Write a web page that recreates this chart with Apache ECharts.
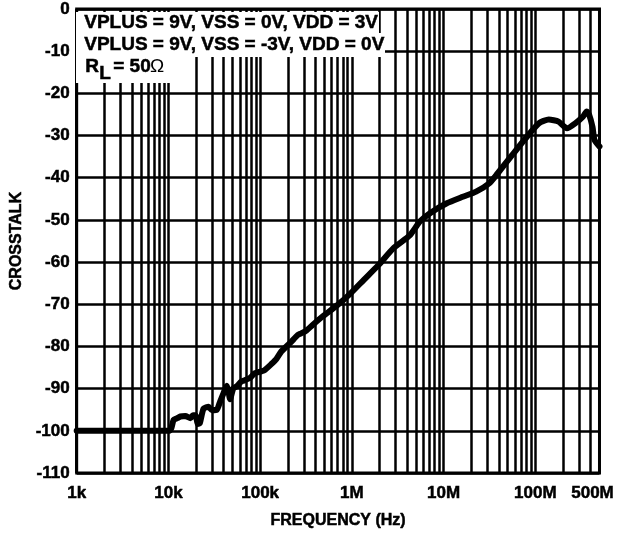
<!DOCTYPE html>
<html>
<head>
<meta charset="utf-8">
<script src="https://cdn.jsdelivr.net/npm/echarts@6/dist/echarts.min.js"></script>
<style>
	html, body { margin: 0; padding: 0; background: #fff; }
	#chart { width: 617px; height: 536px; }
</style>
</head>
<body>
<div id="chart"></div>
<script>
// frequency in Hz
const freq = [
	1000, 10200, 10800, 11400, 12500, 13500, 15300, 17400, 18500, 19700,
	21000, 22000, 24200, 27400, 29800, 33700, 36700, 40000, 43300, 45000,
	47000, 51000, 55000, 62600, 68000, 77000, 87000, 103000, 112000, 132000,
	150000, 170000, 200000, 218000, 257000, 280000, 316000, 373000, 478000, 695000,
	968000, 1.35e6, 1.95e6, 2.84e6, 4.3e6, 5.5e6, 7.1e6, 10.7e6, 16.2e6, 22.6e6,
	31.5e6, 38.7e6, 56e6, 78e6, 109e6, 140e6, 179e6, 221e6, 272e6, 330e6,
	363e6, 385e6, 420e6, 440e6, 500e6,
]
// crosstalk in dB
const crosstalk = [
	-100, -100, -99.3, -97.4, -97, -96.6, -96.5, -97, -96.3, -96.3,
	-98.4, -98.2, -94.7, -94.3, -95.1, -95, -93, -91, -89.3, -90.5,
	-92.5, -89.9, -89.5, -88.3, -88, -87.5, -86.4, -85.9, -85.6, -84.2,
	-83, -81.2, -79.7, -78.9, -77.3, -76.9, -76.3, -74.9, -72.9, -70.2,
	-67.4, -64.2, -60.7, -56.7, -53.6, -50.4, -48.4, -46.1, -44.5, -43.3,
	-41.3, -39, -34.6, -30.7, -27.1, -26.2, -26.7, -28.3, -27.1, -25.5,
	-24.3, -25, -28, -31, -32.6,
]
const tickValues = [1e3, 1e4, 1e5, 1e6, 1e7, 1e8, 5e8]
const tickLabels = ['1k', '10k', '100k', '1M', '10M', '100M', '500M']
const decades = [1e3, 1e4, 1e5, 1e6, 1e7, 1e8]
const steps = [2, 3, 4, 5, 6, 7, 8, 9]

const FONT = "'Liberation Sans', Arial, sans-serif"
const boldText = {
	fontFamily: FONT,
	fontWeight: 'bold',
	fontSize: 17,
	color: '#000',
	textBorderColor: '#000',
	textBorderWidth: 0.5,
}

// minor vertical grid lines (2..9 per decade, up to 400M)
const minorLines = []
decades.forEach((d) => {
	steps.forEach((s) => {
		if (d * s < 5e8) minorLines.push({ xAxis: d * s })
	})
})

const chart = echarts.init(document.getElementById('chart'), null, { renderer: 'canvas' })

const option = {
	backgroundColor: '#fff',
	animation: false,
	grid: {
		left: 74,
		right: 15,
		top: 9,
		bottom: 63,
		show: true,
		borderColor: '#000',
		borderWidth: 3,
		z: 4,
	},
	xAxis: {
		type: 'log',
		logBase: 10,
		min: 1e3,
		max: 5e8,
		name: 'FREQUENCY (Hz)',
		nameLocation: 'middle',
		nameGap: 40,
		nameTextStyle: Object.assign({}, boldText, { fontSize: 16 }),
		axisLine: { show: false },
		axisTick: { show: false },
		axisLabel: Object.assign({}, boldText, {
			margin: 12,
			formatter: (v) => {
				let best = 0
				tickValues.forEach((t, i) => {
					if (Math.abs(Math.log10(t) - Math.log10(v)) < Math.abs(Math.log10(tickValues[best]) - Math.log10(v))) best = i
				})
				return best === tickValues.length - 1 ? '{m|' + tickLabels[best] + '}' : tickLabels[best]
			},
			rich: {
				m: Object.assign({}, boldText, { padding: [0, 14, 0, 0] }),
			},
		}),
		splitLine: { show: true, lineStyle: { color: '#000', width: 2.5 } },
	},
	yAxis: {
		type: 'value',
		min: -110,
		max: 0,
		interval: 10,
		name: 'CROSSTALK',
		nameLocation: 'middle',
		nameGap: 46,
		nameTextStyle: Object.assign({}, boldText, { fontSize: 16 }),
		axisLine: { show: false },
		axisTick: { show: false },
		axisLabel: Object.assign({}, boldText, { margin: 7 }),
		splitLine: { show: true, lineStyle: { color: '#000', width: 2.5 } },
	},
	series: [
		{
			type: 'line',
			data: [],
			silent: true,
			z: 1,
			markLine: {
				silent: true,
				symbol: 'none',
				label: { show: false },
				lineStyle: { color: '#000', width: 2.5, type: 'solid' },
				data: minorLines,
			},
		},
		{
			type: 'line',
			data: freq.map((f, i) => [f, crosstalk[i]]),
			showSymbol: false,
			smooth: 0.2,
			z: 3,
			lineStyle: { color: '#000', width: 6, cap: 'round', join: 'round' },
		},
	],
	graphic: [
		{ type: 'rect', z: 100, shape: { x: 76, y: 12, width: 303, height: 22 }, style: { fill: '#fff' } },
		{ type: 'rect', z: 100, shape: { x: 76, y: 33, width: 309, height: 24 }, style: { fill: '#fff' } },
		{ type: 'rect', z: 100, shape: { x: 76, y: 56, width: 96, height: 27 }, style: { fill: '#fff' } },
		{
			type: 'text', z: 101, left: 84, top: 13,
			style: { text: 'VPLUS = 9V, VSS = 0V, VDD = 3V', font: 'bold 19px ' + FONT, fill: '#000', stroke: '#000', lineWidth: 0.5 },
		},
		{
			type: 'text', z: 101, left: 84, top: 35,
			style: { text: 'VPLUS = 9V, VSS = -3V, VDD = 0V', font: 'bold 19px ' + FONT, fill: '#000', stroke: '#000', lineWidth: 0.5 },
		},
		{
			type: 'text', z: 101, left: 85, top: 57,
			style: { text: 'R', font: 'bold 19px ' + FONT, fill: '#000', stroke: '#000', lineWidth: 0.5 },
		},
		{
			type: 'text', z: 101, left: 99, top: 64,
			style: { text: 'L', font: 'bold 19px ' + FONT, fill: '#000', stroke: '#000', lineWidth: 0.5 },
		},
		{
			type: 'text', z: 101, left: 113, top: 57,
			style: { text: '= 50', font: 'bold 19px ' + FONT, fill: '#000', stroke: '#000', lineWidth: 0.5 },
		},
		{
			type: 'text', z: 101, left: 150, top: 57,
			style: { text: 'Ω', font: '19px ' + FONT, fill: '#000' },
		},
	],
}

chart.setOption(option)
</script>
</body>
</html>
